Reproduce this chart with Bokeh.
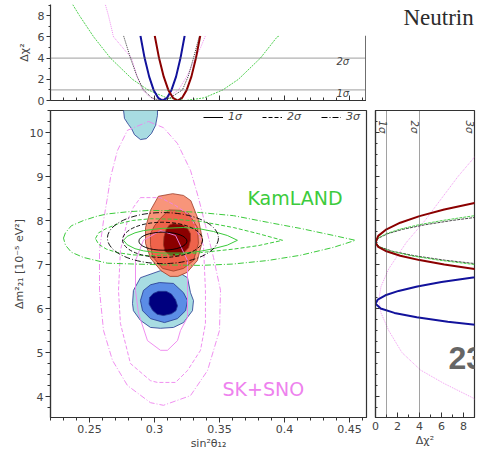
import numpy as np
from bokeh.plotting import figure
from bokeh.layouts import column, row
from bokeh.models import Range1d, FixedTicker, Span, Legend, LegendItem, Label
from bokeh.core.properties import value
from bokeh.embed import file_html
from bokeh.resources import INLINE

# ---------------- data ----------------
x_ticks = [0.25, 0.30, 0.35, 0.40, 0.45]
x_tick_labels = ["0.25", "0.3", "0.35", "0.4", "0.45"]
dm_ticks = [4, 5, 6, 7, 8, 9, 10]
chi_ticks = [0, 2, 4, 6, 8]
sigma_chi = [1, 4]
sigma_names = ["1σ", "2σ", "3σ"]
sigma_right_pos = [0.6, 3.55, 8.5]

# top panel: Δχ² vs sin²θ12
top_blue_x = [0.2892, 0.2924, 0.2959, 0.2993, 0.3028, 0.3062, 0.3097, 0.3131, 0.3166, 0.3200, 0.3232]
top_blue_chi = [6.1, 4.0, 2.25, 1.0, 0.25, 0.0, 0.25, 1.0, 2.25, 4.0, 6.1]
top_red_x = [0.3002, 0.3035, 0.3071, 0.3106, 0.3142, 0.3177, 0.3213, 0.3248, 0.3284, 0.3319, 0.3352]
top_red_chi = [6.1, 4.0, 2.25, 1.0, 0.25, 0.0, 0.25, 1.0, 2.25, 4.0, 6.1]
top_green_x = [0.2360, 0.2373, 0.2423, 0.2532, 0.2661, 0.2830, 0.2950, 0.3094, 0.3238, 0.3382, 0.3526, 0.3646, 0.3815, 0.3944, 0.3960]
top_green_chi = [9.3, 9.0, 8.0, 6.0, 4.0, 2.0, 1.0, 0.25, 0.0, 0.25, 1.0, 2.0, 4.0, 6.0, 6.1]
top_pink_x = [0.2600, 0.2623, 0.2646, 0.2685, 0.2754, 0.2823, 0.2865, 0.2908, 0.2965, 0.3023, 0.3100, 0.3185, 0.3250, 0.3315, 0.3355, 0.3392]
top_pink_chi = [9.5, 9.0, 8.0, 6.0, 5.0, 4.0, 2.3, 1.0, 0.3, 0.0, 0.3, 1.0, 2.3, 4.0, 5.0, 6.1]
top_black_x = [0.2762, 0.2790, 0.2815, 0.2865, 0.2915, 0.2980, 0.3046, 0.3120, 0.3215, 0.3260, 0.3300, 0.3346]
top_black_chi = [6.1, 5.0, 4.0, 2.3, 1.0, 0.25, 0.0, 0.25, 1.0, 2.3, 4.0, 6.1]

# right panel: Δχ² vs Δm²21
right_red_dm = [6.85, 6.90, 7.00, 7.10, 7.20, 7.30, 7.40, 7.50, 7.65, 7.80, 7.95, 8.10, 8.25, 8.40, 8.45]
right_red_chi = [10.6, 9.0, 6.25, 4.0, 2.25, 1.0, 0.25, 0.0, 0.25, 1.0, 2.25, 4.0, 6.25, 9.0, 10.0]
right_green_dm = [6.95, 7.00, 7.10, 7.20, 7.30, 7.40, 7.50, 7.60, 7.70, 7.80, 7.90, 8.00, 8.10, 8.15]
right_green_chi = [10.8, 8.96, 5.74, 3.23, 1.43, 0.36, 0.0, 0.24, 0.97, 2.18, 3.88, 6.07, 8.74, 10.25]
right_black_dm = [6.95, 7.00, 7.10, 7.20, 7.30, 7.40, 7.50, 7.60, 7.70, 7.80, 7.90, 8.00, 8.10]
right_black_chi = [11.8, 9.77, 6.25, 3.52, 1.56, 0.39, 0.0, 0.28, 1.11, 2.49, 4.43, 6.93, 9.97]
right_blue_dm = [5.55, 5.60, 5.70, 5.80, 5.90, 6.00, 6.11, 6.20, 6.30, 6.40, 6.50, 6.60, 6.70, 6.80]
right_blue_chi = [12.25, 10.2, 6.57, 3.75, 1.72, 0.47, 0.0, 0.2, 0.9, 2.1, 3.8, 6.0, 8.7, 11.9]
right_pink_dm = [3.5, 3.95, 4.3, 4.6, 5.0, 5.5, 5.9, 6.2, 6.5, 6.9, 7.5, 8.0, 8.5, 9.0, 9.5, 10.5]
right_pink_chi = [10.5, 9.0, 6.2, 4.1, 2.4, 1.2, 0.5, 0.3, 0.5, 1.2, 2.8, 4.5, 6.0, 7.5, 9.2, 12.0]

# main panel: filled regions (red) and (blue)
red3_x = [0.3140, 0.3223, 0.3280, 0.3340, 0.3370, 0.3330, 0.3250, 0.3180, 0.3120, 0.3050, 0.2970, 0.2931, 0.2931, 0.2969, 0.3030]
red3_y = [8.61, 8.57, 8.45, 8.00, 7.55, 7.09, 6.82, 6.73, 6.73, 6.86, 7.14, 7.48, 7.84, 8.23, 8.55]
red2_x = [0.3110, 0.3200, 0.3262, 0.3331, 0.3338, 0.3300, 0.3223, 0.3146, 0.3062, 0.2985, 0.2969, 0.2969, 0.3000, 0.3046]
red2_y = [8.24, 8.23, 8.16, 7.84, 7.48, 7.09, 6.91, 6.85, 6.91, 7.18, 7.45, 7.70, 7.88, 8.05]
red1_x = [0.3146, 0.3215, 0.3254, 0.3277, 0.3277, 0.3262, 0.3220, 0.3177, 0.3120, 0.3080, 0.3069, 0.3073, 0.3090, 0.3115]
red1_y = [7.93, 7.90, 7.82, 7.70, 7.55, 7.38, 7.25, 7.20, 7.21, 7.30, 7.45, 7.63, 7.80, 7.90]
blue3_x = [0.3046, 0.3177, 0.3254, 0.3277, 0.3300, 0.3292, 0.3223, 0.3146, 0.3046, 0.2969, 0.2892, 0.2838, 0.2831, 0.2838, 0.2892]
blue3_y = [6.86, 6.84, 6.70, 6.36, 6.18, 5.95, 5.68, 5.57, 5.55, 5.57, 5.73, 5.95, 6.11, 6.41, 6.70]
blue2_x = [0.3038, 0.3146, 0.3223, 0.3254, 0.3239, 0.3177, 0.3077, 0.2969, 0.2908, 0.2892, 0.2915, 0.2970]
blue2_y = [6.59, 6.57, 6.36, 6.18, 5.95, 5.77, 5.68, 5.77, 5.95, 6.18, 6.41, 6.54]
blue1_x = [0.3031, 0.3090, 0.3130, 0.3162, 0.3177, 0.3165, 0.3130, 0.3069, 0.3020, 0.2985, 0.2958, 0.2962, 0.2990]
blue1_y = [6.39, 6.39, 6.33, 6.20, 6.06, 5.95, 5.88, 5.84, 5.87, 5.96, 6.10, 6.25, 6.34]
island_x = [0.2762, 0.2762, 0.2769, 0.2800, 0.2823, 0.2846, 0.2892, 0.2938, 0.2977, 0.3008, 0.3023, 0.3023]
island_y = [10.70, 10.50, 10.32, 10.18, 10.09, 9.95, 9.84, 9.86, 9.98, 10.16, 10.39, 10.70]

# KamLAND contours (green)
kam3_x = [0.2300, 0.2315, 0.2360, 0.2454, 0.2560, 0.2638, 0.2800, 0.2969, 0.3150, 0.3354, 0.3608, 0.3869, 0.4123, 0.4377, 0.4546, 0.4377, 0.4123, 0.3869, 0.3600, 0.3354, 0.3100, 0.2850, 0.2638, 0.2454, 0.2360, 0.2315]
kam3_y = [7.60, 7.72, 7.88, 8.00, 8.10, 8.15, 8.20, 8.23, 8.22, 8.18, 8.11, 7.96, 7.82, 7.66, 7.55, 7.39, 7.21, 7.09, 7.01, 6.98, 6.99, 7.01, 7.03, 7.16, 7.28, 7.44]
kam2_x = [0.2546, 0.2570, 0.2630, 0.2715, 0.2830, 0.2969, 0.3150, 0.3354, 0.3608, 0.3800, 0.3985, 0.3800, 0.3608, 0.3354, 0.3150, 0.2969, 0.2830, 0.2715, 0.2630, 0.2570]
kam2_y = [7.59, 7.72, 7.82, 7.92, 8.00, 8.04, 8.03, 7.98, 7.84, 7.70, 7.55, 7.43, 7.35, 7.27, 7.22, 7.20, 7.22, 7.27, 7.35, 7.46]
kam1_x = [0.2762, 0.2790, 0.2850, 0.2915, 0.3050, 0.3223, 0.3350, 0.3454, 0.3560, 0.3638, 0.3560, 0.3454, 0.3350, 0.3223, 0.3050, 0.2915, 0.2850, 0.2790]
kam1_y = [7.55, 7.64, 7.72, 7.77, 7.82, 7.84, 7.81, 7.75, 7.66, 7.55, 7.44, 7.36, 7.30, 7.26, 7.26, 7.31, 7.36, 7.45]

# combined contours (black ellipses): centre, full width, full height
comb_x = [0.3065, 0.3062, 0.3065]
comb_y = [7.53, 7.56, 7.60]
comb_w = [0.037, 0.0615, 0.0854]
comb_h = [0.41, 0.80, 1.16]

# SK+SNO contours (pink)
sk3_x = [0.2954, 0.3069, 0.3177, 0.3277, 0.3338, 0.3392, 0.3454, 0.3508, 0.3500, 0.3408, 0.3277, 0.3069, 0.2969, 0.2792, 0.2677, 0.2608, 0.2577, 0.2577, 0.2608, 0.2638, 0.2662, 0.2715, 0.2792]
sk3_y = [10.25, 10.11, 9.75, 9.14, 8.52, 7.89, 7.16, 6.41, 5.50, 4.59, 4.02, 3.80, 3.86, 4.25, 4.82, 5.50, 6.41, 7.32, 8.00, 8.52, 8.98, 9.59, 10.05]
sk2_x = [0.2892, 0.3046, 0.3162, 0.3277, 0.3377, 0.3392, 0.3392, 0.3354, 0.3254, 0.3162, 0.3023, 0.2969, 0.2815, 0.2738, 0.2723, 0.2738, 0.2792, 0.2838]
sk2_y = [8.52, 8.52, 8.34, 8.11, 7.43, 6.41, 5.66, 5.05, 4.59, 4.32, 4.32, 4.36, 4.75, 5.66, 6.41, 7.32, 8.00, 8.30]
sk1_x = [0.2854, 0.2877, 0.2946, 0.3046, 0.3100, 0.3177, 0.3200, 0.3254, 0.3254, 0.3254, 0.3162, 0.3046, 0.2915, 0.2854]
sk1_y = [6.41, 5.89, 5.27, 5.05, 5.05, 5.27, 5.50, 5.80, 6.41, 7.09, 7.66, 7.77, 7.55, 7.09]

# ---------------- style ----------------
FONT = "DejaVu Sans"
SPINE = "#333333"
GREEN = "#3ccb3c"
PINK = "#ee82ee"
DASH = {"1": "solid", "2": "4 2", "3": "6 2 1 2"}

x_range = Range1d(0.22, 0.4631)
dm_range = Range1d(3.523, 10.5)

x_minor = [round(v, 2) for v in np.arange(0.22, 0.465, 0.01)]
dm_minor = [round(v, 2) for v in np.arange(3.5, 10.51, 0.25)]


def style_axis(ax):
    ax.major_label_text_font = FONT
    ax.major_label_text_font_size = "11px"
    ax.axis_label_text_font = FONT
    ax.axis_label_text_font_size = "11px"
    ax.axis_label_text_font_style = "normal"
    ax.axis_line_color = SPINE
    ax.axis_line_width = 1.2
    ax.major_tick_line_color = SPINE
    ax.minor_tick_line_color = SPINE


def hide_labels(ax):
    ax.major_label_text_font_size = "1px"
    ax.major_label_text_color = None
    ax.major_label_standoff = 0


# ---------------- top panel ----------------
top = figure(frame_width=316, frame_height=96, x_range=x_range, y_range=Range1d(0, 9.05),
             min_border_left=50, min_border_right=0, min_border_top=4, min_border_bottom=9,
             output_backend="svg", toolbar_location=None)
top.grid.visible = False
top.outline_line_color = None
for ax in (top.xaxis[0], top.yaxis[0]):
    style_axis(ax)
top.xaxis.ticker = FixedTicker(ticks=x_ticks, minor_ticks=x_minor)
hide_labels(top.xaxis[0])
top.xaxis.major_tick_in = 5
top.xaxis.major_tick_out = 0
top.xaxis.minor_tick_in = 3
top.xaxis.minor_tick_out = 0
top.yaxis.ticker = FixedTicker(ticks=chi_ticks, minor_ticks=[1, 3, 5, 7, 9])
top.yaxis.major_tick_out = 4
top.yaxis.major_tick_in = 0
top.yaxis.minor_tick_out = 2
top.yaxis.minor_tick_in = 0
top.yaxis.major_label_standoff = 2
top.yaxis.axis_label = "Δχ²"
top.yaxis.axis_label_standoff = 4

for v in sigma_chi:
    top.add_layout(Span(location=v, dimension="width", line_color="#666666",
                        line_dash="1 1", line_width=1.3))
top.line(top_green_x, top_green_chi, line_color=GREEN, line_width=0.9, line_dash="2 1")
top.line(top_pink_x, top_pink_chi, line_color=PINK, line_width=0.9, line_dash="1 1")
top.line(top_black_x, top_black_chi, line_color="black", line_width=0.8, line_dash="1 1")
top.line(top_blue_x, top_blue_chi, line_color="#12129c", line_width=2)
top.line(top_red_x, top_red_chi, line_color="#8b0000", line_width=2)
# overlapping slide element (blank box) and partial right spine
top.quad(left=[0.2685], right=[0.47], bottom=[6.1], top=[10.0], fill_color="white", line_color=None)
top.segment(x0=[0.4631], y0=[0], x1=[0.4631], y1=[6.1], line_color=SPINE, line_width=2.4)
for v, name in zip(sigma_chi, sigma_names):
    top.add_layout(Label(x=0.440, y=v - 0.3, text=name, text_font=FONT, text_font_size="10px",
                         text_font_style="italic", text_baseline="middle", text_align="left"))

# slide title fragment to the right of the top panel
deco = figure(frame_width=115, frame_height=109, x_range=Range1d(0, 115), y_range=Range1d(0, 109),
              min_border=0, output_backend="svg", toolbar_location=None)
deco.axis.visible = False
deco.grid.visible = False
deco.outline_line_color = None
deco.text(x=[37], y=[96], text=["Neutrin"], text_font=value("Liberation Serif"),
          text_font_size="23px", text_color="#2b2b2b", text_baseline="middle", text_align="left")

# ---------------- main panel ----------------
main = figure(frame_width=316, frame_height=307, x_range=x_range, y_range=dm_range,
              min_border_left=50, min_border_right=4, min_border_top=1, min_border_bottom=38,
              output_backend="svg", toolbar_location=None)
main.grid.visible = False
main.outline_line_color = SPINE
main.outline_line_width = 1.2
for ax in (main.xaxis[0], main.yaxis[0]):
    style_axis(ax)
main.xaxis.ticker = FixedTicker(ticks=x_ticks, minor_ticks=x_minor)
main.xaxis.major_label_overrides = {t: l for t, l in zip(x_ticks, x_tick_labels)}
main.yaxis.ticker = FixedTicker(ticks=dm_ticks, minor_ticks=dm_minor)
for ax in (main.xaxis[0], main.yaxis[0]):
    ax.major_tick_out = 5
    ax.major_tick_in = 0
    ax.minor_tick_out = 3
    ax.minor_tick_in = 0
    ax.major_label_standoff = 2
    ax.axis_label_standoff = 1
main.xaxis.axis_label = "sin²θ₁₂"
main.yaxis.axis_label = "Δm²₂₁ [10⁻⁵ eV²]"

RED_EDGE = "#9a3a26"
BLUE_EDGE = "#23368f"
main.patch(island_x, island_y, fill_color="#a8dce2", line_color=BLUE_EDGE, line_width=0.8)
main.patch(blue3_x, blue3_y, fill_color="#a8dce2", line_color=BLUE_EDGE, line_width=0.8)
main.patch(blue2_x, blue2_y, fill_color="#5b8de6", line_color=BLUE_EDGE, line_width=0.8)
main.patch(blue1_x, blue1_y, fill_color="#00007f", line_color=BLUE_EDGE, line_width=0.8)
main.patch(red3_x, red3_y, fill_color="#f8957a", line_color=RED_EDGE, line_width=0.8)
main.patch(red2_x, red2_y, fill_color="#ef634b", line_color=RED_EDGE, line_width=0.8)
main.patch(red1_x, red1_y, fill_color="#8b0000", line_color=RED_EDGE, line_width=0.8)

for xs, ys, d in ((sk1_x, sk1_y, "1"), (sk2_x, sk2_y, "2"), (sk3_x, sk3_y, "3")):
    main.patch(xs, ys, fill_color=None, line_color=PINK, line_width=0.9, line_dash=DASH[d])
for xs, ys, d in ((kam1_x, kam1_y, "1"), (kam2_x, kam2_y, "2"), (kam3_x, kam3_y, "3")):
    main.patch(xs, ys, fill_color=None, line_color=GREEN, line_width=1.0, line_dash=DASH[d])
for i, d in enumerate(("1", "2", "3")):
    main.ellipse(x=[comb_x[i]], y=[comb_y[i]], width=[comb_w[i]], height=[comb_h[i]],
                 fill_color=None, line_color="black", line_width=0.9, line_dash=DASH[d])

# legend proxies (single point lines: nothing is drawn in the plot area)
leg_r = [main.line([comb_x[i]], [comb_y[i]], line_color="black", line_width=1.0, line_dash=DASH[d])
         for i, d in enumerate(("1", "2", "3"))]
legend = Legend(items=[LegendItem(label=n, renderers=[r]) for n, r in zip(sigma_names, leg_r)],
                orientation="horizontal", location="top_right", margin=0, padding=10, spacing=14,
                glyph_width=20, glyph_height=8, label_height=8, label_standoff=5,
                border_line_color=None, background_fill_alpha=0,
                label_text_font=FONT, label_text_font_size="11px", label_text_font_style="italic")
main.add_layout(legend)

main.add_layout(Label(x=0.3715, y=8.52, text="KamLAND", text_color="#3ccb3c", text_font=FONT,
                      text_font_size="19px", text_baseline="middle", text_align="left"))
main.add_layout(Label(x=0.3523, y=4.18, text="SK+SNO", text_color=PINK, text_font=FONT,
                      text_font_size="19px", text_baseline="middle", text_align="left"))

# ---------------- right panel ----------------
right = figure(frame_width=99, frame_height=307, x_range=Range1d(0, 9.0), y_range=dm_range,
               min_border_left=5, min_border_right=7, min_border_top=1, min_border_bottom=38,
               output_backend="svg", toolbar_location=None)
right.grid.visible = False
right.outline_line_color = SPINE
right.outline_line_width = 1.2
for ax in (right.xaxis[0], right.yaxis[0]):
    style_axis(ax)
right.xaxis.ticker = FixedTicker(ticks=chi_ticks, minor_ticks=[1, 3, 5, 7, 9])
right.xaxis.major_tick_in = 5
right.xaxis.major_tick_out = 0
right.xaxis.minor_tick_in = 3
right.xaxis.minor_tick_out = 0
right.xaxis.major_label_standoff = 4
right.xaxis.axis_label = "Δχ²"
right.xaxis.axis_label_standoff = 1
right.yaxis.ticker = FixedTicker(ticks=dm_ticks, minor_ticks=dm_minor)
hide_labels(right.yaxis[0])
right.yaxis.major_tick_in = 4
right.yaxis.major_tick_out = 0
right.yaxis.minor_tick_in = 2
right.yaxis.minor_tick_out = 0

for v in sigma_chi:
    right.add_layout(Span(location=v, dimension="height", line_color="#444444",
                          line_dash="1 1", line_width=1.0))
right.line(right_pink_chi, right_pink_dm, line_color=PINK, line_width=0.8, line_dash="1 1")
right.line(right_black_chi, right_black_dm, line_color="#333333", line_width=0.9, line_dash="3 1")
right.line(right_green_chi, right_green_dm, line_color=GREEN, line_width=0.9, line_dash="3 1")
right.line(right_red_chi, right_red_dm, line_color="#8b0000", line_width=2)
right.line(right_blue_chi, right_blue_dm, line_color="#12129c", line_width=2)
for xpos, name in zip(sigma_right_pos, sigma_names):
    right.add_layout(Label(x=xpos, y=10.27, text=name, angle=-np.pi / 2, text_font=FONT,
                           text_font_size="10px", text_font_style="italic",
                           text_baseline="middle", text_align="left"))
right.add_layout(Label(x=73, y=60, x_units="screen", y_units="screen", text="23",
                       text_font="Liberation Sans", text_font_size="32px", text_font_style="bold",
                       text_color="#666666", text_baseline="middle", text_align="left"))

layout = column(row(top, deco, spacing=0), row(main, right, spacing=0), spacing=0)
open("out.html", "w").write(file_html(layout, INLINE))
